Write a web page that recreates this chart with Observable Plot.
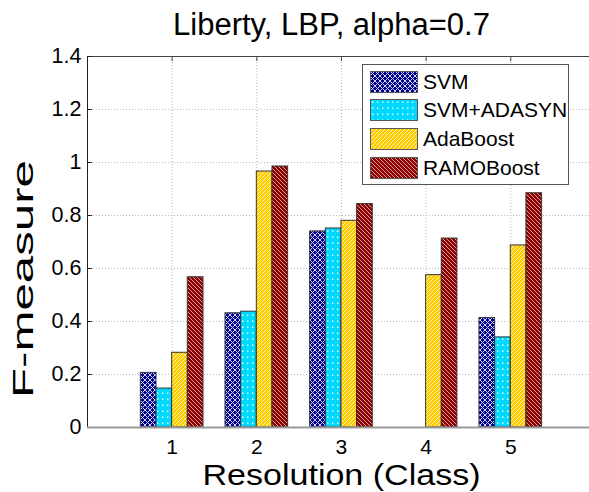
<!DOCTYPE html>
<html>
<head>
<meta charset="utf-8">
<script src="https://cdn.jsdelivr.net/npm/d3@7"></script>
<script src="https://cdn.jsdelivr.net/npm/@observablehq/plot@0.6"></script>
<style>
  html, body { margin: 0; padding: 0; background: white; }
  #wrap { position: relative; width: 589px; height: 492px; overflow: hidden; font-family: "Liberation Sans", Arial, sans-serif; }
  #legend { position: absolute; left: 362px; top: 64px; width: 207px; height: 121px; border: 1px solid #555; background: white; box-sizing: border-box; }
  .row { position: absolute; left: 7px; height: 22px; display: flex; align-items: center; }
  .row svg { width: 48px; height: 22px; display: block; }
  .row span { margin-left: 5px; font-size: 21px; line-height: 22px; color: black; white-space: nowrap; }
</style>
</head>
<body>
<svg width="0" height="0" style="position:absolute">
  <defs>
    <pattern id="pSVM" patternUnits="userSpaceOnUse" width="5" height="5">
      <rect width="5" height="5" fill="#00008f"/>
      <path d="M0,0L5,5M0,5L5,0" stroke="#d0d0ff" stroke-width="1"/>
    </pattern>
    <pattern id="pADA" patternUnits="userSpaceOnUse" width="5" height="6">
      <rect width="5" height="6" fill="#00d9ff"/>
      <rect x="2" y="2.5" width="1.4" height="1.4" fill="#ffffff"/>
    </pattern>
    <pattern id="pAB" patternUnits="userSpaceOnUse" width="4" height="4">
      <rect width="4" height="4" fill="#ffcc00"/>
      <path d="M-1,1L1,-1M0,4L4,0M3,5L5,3" stroke="#fff6d0" stroke-width="0.9"/>
    </pattern>
    <pattern id="pRB" patternUnits="userSpaceOnUse" width="4" height="4">
      <rect width="4" height="4" fill="#8c0000"/>
      <path d="M-1,3L1,5M0,0L4,4M3,-1L5,1" stroke="#e8b0b0" stroke-width="0.9"/>
    </pattern>
  </defs>
</svg>
<div id="wrap"></div>
<script>
const classes = [1, 2, 3, 4, 5];
const methods = ["SVM", "SVM+ADASYN", "AdaBoost", "RAMOBoost"];
const svm = [0.206, 0.431, 0.740, 0, 0.413];
const svmAdasyn = [0.147, 0.437, 0.751, 0, 0.340];
const adaboost = [0.282, 0.966, 0.780, 0.575, 0.687];
const ramoboost = [0.567, 0.985, 0.843, 0.713, 0.884];
const yTicks = [0, 0.2, 0.4, 0.6, 0.8, 1, 1.2, 1.4];
const fills = ["url(#pSVM)", "url(#pADA)", "url(#pAB)", "url(#pRB)"];
const title = "Liberty, LBP, alpha=0.7";
const xLabel = "Resolution (Class)";
const yLabel = "F-measure";

const series = [svm, svmAdasyn, adaboost, ramoboost];
const barW = 0.185;
const data = [];
series.forEach((vals, si) => {
  vals.forEach((v, ci) => {
    if (v > 0) data.push({cls: classes[ci], method: methods[si], si, value: v});
  });
});

const plot = Plot.plot({
  width: 589,
  height: 492,
  marginLeft: 87,
  marginRight: 0,
  marginTop: 56,
  marginBottom: 65,
  style: {fontFamily: "'Liberation Sans', Arial, sans-serif", fontSize: "20px", background: "white", color: "black"},
  x: {domain: [0, 5.93], ticks: classes, tickFormat: d => String(d), tickSize: 0, tickPadding: 13, label: null},
  y: {domain: [0, 1.4], ticks: yTicks, tickFormat: d => String(d), tickSize: 0, tickPadding: 7, label: null},
  color: {domain: methods, range: fills},
  marks: [
    Plot.gridY(yTicks.filter(t => t > 0 && t < 1.4), {stroke: "#b8b8b8", strokeOpacity: 1, strokeDasharray: "1,2"}),
    Plot.gridX(classes, {stroke: "#b8b8b8", strokeOpacity: 1, strokeDasharray: "1,2"}),
    Plot.rect(data, {
      x1: d => d.cls - 2 * barW + d.si * barW,
      x2: d => d.cls - 2 * barW + (d.si + 1) * barW,
      y1: 0,
      y2: "value",
      fill: "method",
      stroke: "#333",
      strokeWidth: 1
    }),
    Plot.ruleY([1.4], {stroke: "#444", strokeWidth: 1}),
    Plot.ruleX([0], {stroke: "#222", strokeWidth: 1}),
    Plot.tickY(yTicks, {y: d => d, insetRight: 589 - 87 - 5, stroke: "#222"}),
    Plot.tickX(classes, {x: d => d, insetBottom: 371 - 5, stroke: "#444"}),
    Plot.ruleY([0], {stroke: "#9a9a9a", strokeWidth: 2}),
    Plot.axisX(classes, {tickSize: 0, tickPadding: 12, tickFormat: d => String(d), fontSize: 21, label: null}),
    Plot.axisY(yTicks, {tickSize: 0, tickPadding: 6, tickFormat: d => String(d), fontSize: 21.5, label: null}),
    Plot.text([title], {frameAnchor: "top", textAnchor: "middle", dx: -7, dy: -31, fontSize: 31, lineAnchor: "middle", fill: "black"}),
    Plot.text([xLabel], {frameAnchor: "bottom", textAnchor: "middle", dx: 3, dy: 48, fontSize: 29, lineAnchor: "middle", fill: "black"}),
    Plot.text([yLabel], {frameAnchor: "left", textAnchor: "middle", rotate: -90, dx: -64, dy: 37, fontSize: 30, lineAnchor: "middle", fill: "black"})
  ]
});

d3.select(plot).selectAll("text").each(function() {
  const t = this.textContent;
  if (t === xLabel) { d3.select(this).attr("textLength", 278).attr("lengthAdjust", "spacingAndGlyphs"); }
  if (t === yLabel) { d3.select(this).attr("textLength", 238).attr("lengthAdjust", "spacingAndGlyphs"); }
});

const wrap = document.getElementById("wrap");
wrap.appendChild(plot);

const legend = document.createElement("div");
legend.id = "legend";
const rowCenters = [81.5, 110, 138.5, 167.5];
methods.forEach((m, i) => {
  const row = document.createElement("div");
  row.className = "row";
  row.style.top = (rowCenters[i] - 64 - 11 - 1) + "px";
  row.innerHTML = `<svg viewBox="0 0 48 22"><rect x="0.5" y="0.5" width="47" height="21" fill="${fills[i]}" stroke="#555" stroke-width="1"/></svg><span>${m}</span>`;
  legend.appendChild(row);
});
wrap.appendChild(legend);
</script>
</body>
</html>
